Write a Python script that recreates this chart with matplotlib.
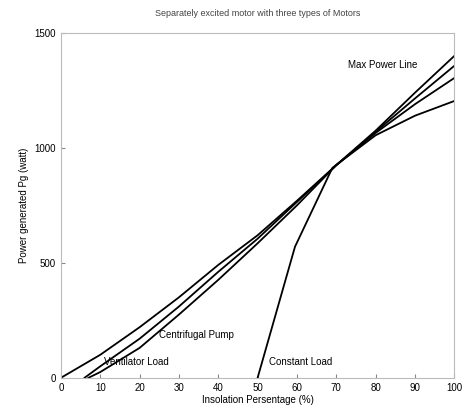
import numpy as np
import matplotlib
matplotlib.use("Agg")
import matplotlib.pyplot as plt

plt.rcParams['font.family'] = ['Liberation Sans', 'DejaVu Sans']

# data ------------------------------------------------------------------------
x_max = [0, 10, 20, 30, 40, 50, 60, 70, 80, 90, 100]
y_max = [0, 100, 220, 350, 491, 620, 770, 925, 1065, 1190, 1304]

x_cent = [6, 10, 20, 30, 40, 50, 60, 70, 80, 90, 100]
y_cent = [0, 50, 170, 310, 461, 605, 765, 925, 1070, 1215, 1357]

x_vent = [7, 10, 20, 30, 40, 50, 60, 70, 80, 90, 100]
y_vent = [0, 25, 130, 275, 426, 585, 750, 925, 1075, 1240, 1400]

x_const = [50, 59.5, 69, 80, 90, 100]
y_const = [0, 570, 913, 1055, 1140, 1204]

xticks = np.arange(0, 101, 10)
yticks = [0, 500, 1000, 1500]

# figure ---------------------------------------------------------------------
fig = plt.figure(figsize=(4.65, 4.17), dpi=100)
ax = fig.add_axes([0.131, 0.094, 0.846, 0.827])

for xs, ys in [(x_max, y_max), (x_cent, y_cent), (x_vent, y_vent), (x_const, y_const)]:
    ax.plot(xs, ys, color='black', lw=1.3)

ax.text(73, 1348, 'Max Power Line', fontsize=7)
ax.text(25, 174, 'Centrifugal Pump', fontsize=7)
ax.text(11, 55, 'Ventilator Load', fontsize=7)
ax.text(53, 55, 'Constant Load', fontsize=7)

ax.set_xlim(0, 100)
ax.set_ylim(0, 1500)
ax.set_xticks(xticks)
ax.set_yticks(yticks)
ax.tick_params(direction='in', labelsize=7, length=3, color='#888888')
for s in ax.spines.values():
    s.set_color('#bbbbbb')
    s.set_linewidth(0.8)

ax.set_title('Separately excited motor with three types of Motors', fontsize=6.5, color='#444444', pad=12)
ax.set_xlabel('Insolation Persentage (%)', fontsize=7, labelpad=2)
ax.set_ylabel('Power generated Pg (watt)', fontsize=7)

fig.savefig('out.png', dpi=100)
